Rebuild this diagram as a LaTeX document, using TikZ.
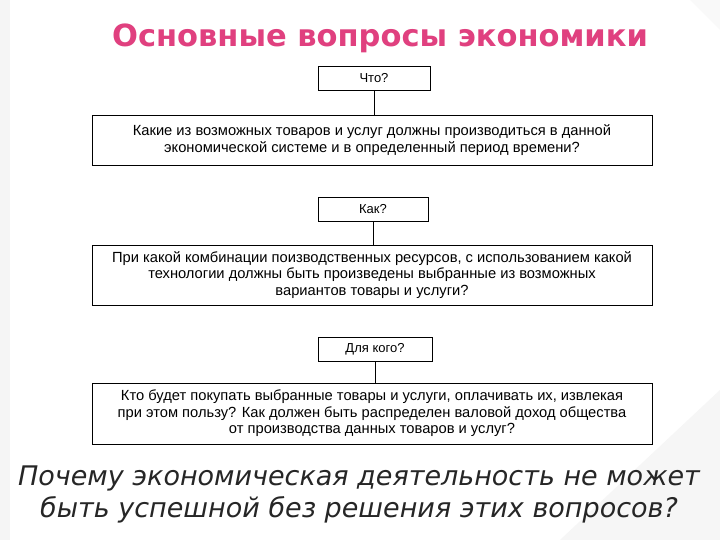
\documentclass[tikz,border=0pt]{standalone}
\usepackage{fontspec}
\setmainfont{Liberation Sans}
\newfontfamily\botfont{DejaVu Sans}
\newfontfamily\titfont{DejaVu Sans}
\definecolor{titlepink}{HTML}{E0407F}
\begin{document}
\begin{tikzpicture}[x=1pt,y=-1pt,
  qbox/.style={draw,line width=0.8pt,minimum height=24pt,font=\fontsize{13}{15}\selectfont},
  abox/.style={draw,line width=0.8pt,minimum width=560pt,align=center,font=\fontsize{14.7}{16.5}\selectfont},
  conn/.style={line width=0.8pt}]
\useasboundingbox (0,0) rectangle (720,540);
\fill[white] (0,0) rectangle (720,540);
\fill[gray!8] (0,0) rectangle (10,540);
\fill[gray!7] (560,540) -- (720,390) -- (720,540) -- cycle;
\fill[gray!5] (690,0) -- (720,30) -- (720,0) -- cycle;
\node[text=titlepink,font=\titfont\bfseries\fontsize{30.5}{32}\selectfont] (title) at (380,38) {Основные вопросы экономики};
\node[qbox,minimum width=112pt] (q1) at (374,78) {Что?};
\node[abox,minimum height=50pt] (a1) at (372,140) {Какие из возможных товаров и услуг должны производиться в данной\\экономической системе и в определенный период времени?};
\node[qbox,minimum width=110pt] (q2) at (373,209) {Как?};
\node[abox,minimum height=60pt] (a2) at (372,275) {При какой комбинации поизводственных ресурсов, с использованием какой\\технологии должны быть произведены выбранные из возможных\\вариантов товары и услуги?};
\node[qbox,minimum width=114pt] (q3) at (375,349.5) {Для кого?};
\node[abox,minimum height=61pt] (a3) at (372,413.5) {Кто будет покупать выбранные товары и услуги, оплачивать их, извлекая\\при этом пользу? Как должен быть распределен валовой доход общества\\от производства данных товаров и услуг?};
\draw[conn] (q1.south) -- (q1.south |- a1.north);
\draw[conn] (q2.south) -- (q2.south |- a2.north);
\draw[conn] (q3.south) -- (q3.south |- a3.north);
\node[text=black!85,align=center,font=\botfont\itshape\fontsize{27}{32}\selectfont] (bottom) at (359,494) {Почему экономическая деятельность не может\\быть успешной без решения этих вопросов?};
\end{tikzpicture}
\end{document}
